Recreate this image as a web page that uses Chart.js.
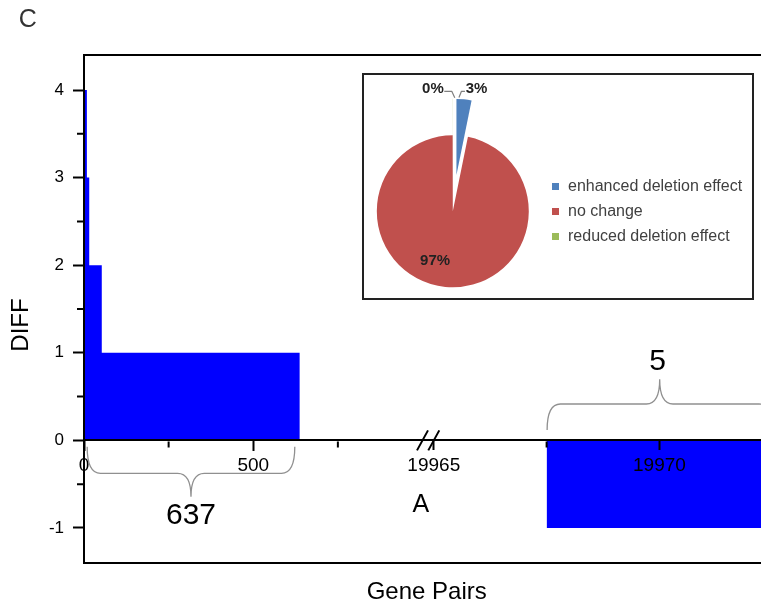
<!DOCTYPE html>
<html>
<head>
<meta charset="utf-8">
<script src="https://cdn.jsdelivr.net/npm/chart.js@4.4.0/dist/chart.umd.min.js"></script>
<style>
  html, body { margin: 0; padding: 0; background: #fff; }
  #wrap { position: relative; width: 761px; height: 609px; overflow: hidden; }
  #main { position: absolute; left: 0; top: 0; }
  #inset { position: absolute; left: 362px; top: 73px; width: 392px; height: 227px;
           box-sizing: border-box; border: 2px solid #222; background: #fff; }
  #pie { position: absolute; left: 0; top: 0; }
</style>
</head>
<body>
<div id="wrap">
  <canvas id="main" width="761" height="609"></canvas>
  <div id="inset"><canvas id="pie" width="388" height="223"></canvas></div>
</div>
<script>
// ---- data -------------------------------------------------------------
// DIFF value of each group of gene pairs (pairs ranked by DIFF, high to low)
const diffLevels = [4, 3, 2, 1, 0, -1];
// number of gene pairs in each DIFF group
const pairCounts = [8, 7, 37, 585, 19330, 5];

// axis ticks
const yTickValues = [-1, 0, 1, 2, 3, 4];
const leftTickValues = [0, 500];
const rightTickValues = [19965, 19970];
// where the broken x axis ends (left part) and resumes (right part)
const axisBreak = [1000, 19965];

// pie inset
const pieLabels = ['enhanced deletion effect', 'no change', 'reduced deletion effect'];
const pieColors = ['#4f81bd', '#c0504d', '#9bbb59'];

// ---- derived series -------------------------------------------------------
const FONT = "'Liberation Sans', Arial, Helvetica, sans-serif";
const BAR_BLUE = '#0000ff';

// each pair k occupies [k - 0.5, k + 0.5] on the rank axis
const runs = [];
let rank = 0;
diffLevels.forEach((d, i) => {
  runs.push({ diff: d, count: pairCounts[i], from: rank + 0.5, to: rank + pairCounts[i] + 0.5 });
  rank += pairCounts[i];
});
const upRuns = runs.filter(r => r.diff > 0);
const flatRuns = runs.filter(r => r.diff === 0);
const downRuns = runs.filter(r => r.diff < 0);
const sumCounts = list => list.reduce((s, r) => s + r.count, 0);
const upTotal = sumCounts(upRuns);
const downTotal = sumCounts(downRuns);
const pieValues = [upTotal, sumCounts(flatRuns), downTotal];

function stepPoints(list) {
  const pts = list.map(r => ({ x: r.from, y: r.diff }));
  const last = list[list.length - 1];
  pts.push({ x: last.to, y: last.diff });
  return pts;
}

Chart.defaults.font.family = FONT;
Chart.defaults.color = '#000';

// ---- main chart helpers ---------------------------------------------------
function drawBrace(ctx, x1, x2, yEnd, dir, arm, tip, corner) {
  const xm = (x1 + x2) / 2;
  const yArm = yEnd + dir * arm;
  const yTip = yEnd + dir * tip;
  ctx.beginPath();
  ctx.moveTo(x1, yEnd);
  ctx.quadraticCurveTo(x1, yArm, x1 + corner, yArm);
  ctx.lineTo(xm - corner, yArm);
  ctx.quadraticCurveTo(xm, yArm, xm, yTip);
  ctx.quadraticCurveTo(xm, yArm, xm + corner, yArm);
  ctx.lineTo(x2 - corner, yArm);
  ctx.quadraticCurveTo(x2, yArm, x2, yEnd);
  ctx.stroke();
  return yTip;
}

const notesPlugin = {
  id: 'notes',
  afterDraw(chart) {
    const { ctx, chartArea: ca } = chart;
    const { x, x2, y } = chart.scales;
    const y0 = y.getPixelForValue(0);
    ctx.save();

    // frame: top and bottom edges of the plot box
    ctx.strokeStyle = '#000';
    ctx.lineWidth = 2;
    ctx.beginPath();
    ctx.moveTo(ca.left - 1, ca.top); ctx.lineTo(ca.right, ca.top);
    ctx.moveTo(ca.left - 1, ca.bottom); ctx.lineTo(ca.right, ca.bottom);
    ctx.stroke();

    // minor ticks halfway between the labelled ones
    ctx.beginPath();
    yTickValues.forEach(v => {
      const m = v + 0.5;
      if (m > y.max || m < y.min) return;
      const py = y.getPixelForValue(m);
      ctx.moveTo(ca.left - 7, py); ctx.lineTo(ca.left - 1, py);
    });
    const xMinor = (scale, ticks, lo, hi) => {
      const step = ticks[1] - ticks[0];
      ticks.forEach(v => {
        const m = v + step / 2;
        if (m < lo || m > hi) return;
        const px = scale.getPixelForValue(m);
        ctx.moveTo(px, y0 + 1); ctx.lineTo(px, y0 + 7);
      });
    };
    xMinor(x, leftTickValues, 0, axisBreak[0]);
    xMinor(x2, rightTickValues, axisBreak[1], x2.max);
    ctx.stroke();

    // axis break marks
    ctx.beginPath();
    [x.getPixelForValue(axisBreak[0]), x2.getPixelForValue(axisBreak[1])].forEach(px => {
      ctx.moveTo(px - 5.5, y0 + 10);
      ctx.lineTo(px + 5.5, y0 - 10);
    });
    ctx.stroke();

    // braces with pair counts
    ctx.strokeStyle = '#909090';
    ctx.lineWidth = 1.3;
    const upFrom = x.getPixelForValue(upRuns[0].from) + 3;
    const upTo = x.getPixelForValue(upRuns[upRuns.length - 1].to) - 5;
    const tipDown = drawBrace(ctx, upFrom, upTo, y0 + 6.3, 1, 26.6, 50, 13.3);
    const dnFrom = x2.getPixelForValue(downRuns[0].from) + 0.5;
    const dnTo = x2.getPixelForValue(downRuns[downRuns.length - 1].to);
    const tipUp = drawBrace(ctx, dnFrom, dnTo, y0 - 10.4, -1, 26, 50.7, 13.3);

    ctx.fillStyle = '#000';
    ctx.textAlign = 'center';
    ctx.textBaseline = 'middle';
    ctx.font = '30px ' + FONT;
    ctx.fillText(String(upTotal), (upFrom + upTo) / 2, tipDown + 19);
    ctx.fillText(String(downTotal), (dnFrom + dnTo) / 2 - 2, tipUp - 17.6);

    ctx.font = '25px ' + FONT;
    ctx.fillText('A', x2.getPixelForValue(axisBreak[1]) - 13, 505);

    // axis titles and panel letter
    ctx.font = '24px ' + FONT;
    ctx.fillText('Gene Pairs', 426.7, 592.5);
    ctx.save();
    ctx.translate(21.7, 325);
    ctx.rotate(-Math.PI / 2);
    ctx.fillText('DIFF', 0, 0);
    ctx.restore();

    ctx.fillStyle = '#333';
    ctx.font = '25px ' + FONT;
    ctx.fillText('C', 27.8, 20.5);
    ctx.restore();
  }
};

const tickFont = size => ({ family: FONT, size: size });
const plainNumber = v => String(v);
const xAxisCommon = {
  type: 'linear',
  position: { y: 0 },
  grid: { drawOnChartArea: false, drawTicks: true, tickLength: 10, tickWidth: 2, tickColor: '#000', z: 1 },
  ticks: { color: '#000', font: tickFont(19), padding: 4, maxRotation: 0, autoSkip: false, z: 1,
           callback: plainNumber }
};

new Chart(document.getElementById('main'), {
  type: 'line',
  data: {
    datasets: [
      { data: stepPoints(upRuns), xAxisID: 'x', yAxisID: 'y', stepped: 'before', fill: 'origin',
        backgroundColor: BAR_BLUE, borderColor: 'rgba(0,0,0,0)', borderWidth: 0, pointRadius: 0 },
      { data: stepPoints(downRuns), xAxisID: 'x2', yAxisID: 'y', stepped: 'before', fill: 'origin',
        backgroundColor: BAR_BLUE, borderColor: 'rgba(0,0,0,0)', borderWidth: 0, pointRadius: 0 }
    ]
  },
  options: {
    responsive: false,
    animation: false,
    events: [],
    layout: { padding: { top: 55, bottom: 46, left: 0, right: 0 } },
    plugins: { legend: { display: false }, tooltip: { enabled: false } },
    scales: {
      x: Object.assign({}, xAxisCommon, {
        min: 0, max: 2000,
        afterBuildTicks: s => { s.ticks = leftTickValues.map(v => ({ value: v })); },
        border: { display: true, color: '#000', width: 2, z: 1 }
      }),
      x2: Object.assign({}, xAxisCommon, {
        min: 19957.25, max: 19972.25,
        afterBuildTicks: s => { s.ticks = rightTickValues.map(v => ({ value: v })); },
        border: { display: false }
      }),
      y: {
        type: 'linear', position: 'left', min: -1.4, max: 4.4,
        afterBuildTicks: s => { s.ticks = yTickValues.map(v => ({ value: v })); },
        afterFit: s => { s.width = 84; },
        grid: { drawOnChartArea: false, drawTicks: true, tickLength: 11, tickWidth: 2, tickColor: '#000', z: 1 },
        border: { display: true, color: '#000', width: 2, z: 1 },
        ticks: { color: '#000', font: tickFont(17), padding: 9, z: 1, callback: plainNumber }
      }
    }
  },
  plugins: [notesPlugin]
});

// ---- pie inset --------------------------------------------------------
// pull slices outward from the centre along their mid angle
const explodePlugin = {
  id: 'explode',
  afterDatasetsUpdate(chart, args, opts) {
    const meta = chart.getDatasetMeta(0);
    meta.data.forEach((arc, i) => {
      const d = (opts.distance || [])[i] || 0;
      if (!d) return;
      const mid = (arc.startAngle + arc.endAngle) / 2;
      arc.x += Math.cos(mid) * d;
      arc.y += Math.sin(mid) * d;
    });
  }
};

const pieNotesPlugin = {
  id: 'pieNotes',
  afterDraw(chart) {
    const { ctx, chartArea: ca } = chart;
    const meta = chart.getDatasetMeta(0);
    const ds = chart.data.datasets[0];
    const total = ds.data.reduce((a, b) => a + b, 0);
    const pct = i => Math.round(ds.data[i] / total * 100) + '%';
    ctx.save();

    // percentage labels
    ctx.font = 'bold 15px ' + FONT;
    ctx.fillStyle = '#222';
    ctx.textBaseline = 'middle';
    ctx.strokeStyle = '#808080';
    ctx.lineWidth = 1.2;
    ctx.lineJoin = 'round';

    // large slice: label inside
    const big = meta.data[1];
    const ang = (big.startAngle + big.endAngle) / 2 + 14 * Math.PI / 180;
    const rr = big.outerRadius * 0.69;
    ctx.textAlign = 'center';
    ctx.fillText(pct(1), big.x + Math.cos(ang) * rr, big.y + Math.sin(ang) * rr);

    // small slice: label outside to the right, with leader
    const sm = meta.data[0];
    const ax = sm.x + Math.cos(sm.startAngle) * sm.outerRadius;
    const ay = sm.y + Math.sin(sm.startAngle) * sm.outerRadius;
    ctx.beginPath();
    ctx.moveTo(ax + 2.5, ay - 1.5);
    ctx.lineTo(ax + 5, ay - 7.7);
    ctx.lineTo(ax + 8.5, ay - 7.7);
    ctx.stroke();
    ctx.textAlign = 'left';
    ctx.fillText(pct(0), ax + 9.2, ay - 9.8);

    // empty slice: label outside to the left, with leader
    const zr = meta.data[2];
    const bx = zr.x + Math.cos(zr.endAngle) * zr.outerRadius;
    const by = zr.y + Math.sin(zr.endAngle) * zr.outerRadius;
    ctx.beginPath();
    ctx.moveTo(bx + 2, by - 1);
    ctx.lineTo(bx - 1, by - 7.5);
    ctx.lineTo(bx - 8.5, by - 7.5);
    ctx.stroke();
    ctx.textAlign = 'right';
    ctx.fillText(pct(2), bx - 9, by - 9.6);

    // legend
    const cy = (ca.top + ca.bottom) / 2;
    ctx.font = '16px ' + FONT;
    ctx.textAlign = 'left';
    chart.data.labels.forEach((lab, i) => {
      const ry = cy + (i - 1) * 25;
      ctx.fillStyle = ds.backgroundColor[i];
      ctx.fillRect(188, Math.round(ry - 3.5), 7, 7);
      ctx.fillStyle = '#404040';
      ctx.fillText(lab, 204, ry);
    });
    ctx.restore();
  }
};

new Chart(document.getElementById('pie'), {
  type: 'pie',
  data: {
    labels: pieLabels,
    datasets: [{ data: pieValues, backgroundColor: pieColors, borderWidth: 0 }]
  },
  options: {
    responsive: false,
    animation: false,
    events: [],
    radius: 76,
    layout: { padding: { left: 0, right: 210.4, top: 49.6, bottom: 0 } },
    plugins: {
      legend: { display: false },
      tooltip: { enabled: false },
      explode: { distance: [36.5, 0, 36.5] }
    }
  },
  plugins: [explodePlugin, pieNotesPlugin]
});
</script>
</body>
</html>
